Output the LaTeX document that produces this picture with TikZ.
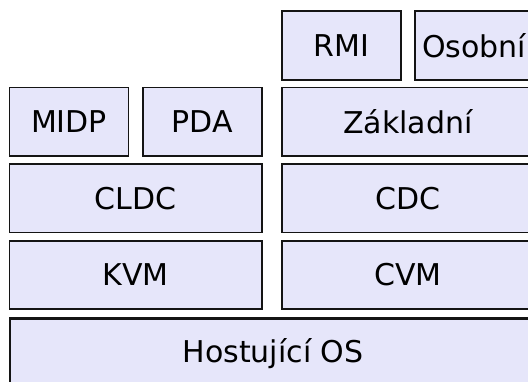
\documentclass[tikz,border=0pt]{standalone}
\usepackage{fontspec}
\setmainfont{DejaVu Sans}
\definecolor{boxfill}{RGB}{230,230,250}
\definecolor{boxline}{RGB}{20,20,20}
\begin{document}
\begin{tikzpicture}[x=1pt,y=1pt,
  layer/.style={draw=boxline, fill=boxfill, line width=1.8pt, inner sep=0pt,
    outer sep=0pt, anchor=north west, font=\fontsize{30}{36}\selectfont},
  baselayer/.style={layer, line width=2.8pt}]
\useasboundingbox (0,0) rectangle (528,-381);
\clip (0,0) rectangle (528,-381);
\node[layer, minimum width=119pt, minimum height=69pt] (rmi) at (282,-11) {RMI};
\node[layer, minimum width=118pt, minimum height=69pt] (osobni) at (415,-11) {Osobní};
\node[layer, minimum width=119pt, minimum height=68.5pt] (midp) at (9.5,-87.5) {MIDP};
\node[layer, minimum width=119pt, minimum height=68.5pt] (pda) at (143,-87.5) {PDA};
\node[layer, minimum width=252pt, minimum height=68.5pt] (zakladni) at (282,-87.5) {Základní};
\node[layer, minimum width=252.5pt, minimum height=68.5pt] (cldc) at (9.5,-164) {CLDC};
\node[layer, minimum width=252pt, minimum height=68.5pt] (cdc) at (282,-164) {CDC};
\node[layer, minimum width=252.5pt, minimum height=68pt] (kvm) at (9.5,-241) {KVM};
\node[layer, minimum width=252pt, minimum height=68pt] (cvm) at (282,-241) {CVM};
\node[baselayer, minimum width=526pt, minimum height=70pt] (os) at (10,-318.5) {Hostující OS};
\end{tikzpicture}
\end{document}
